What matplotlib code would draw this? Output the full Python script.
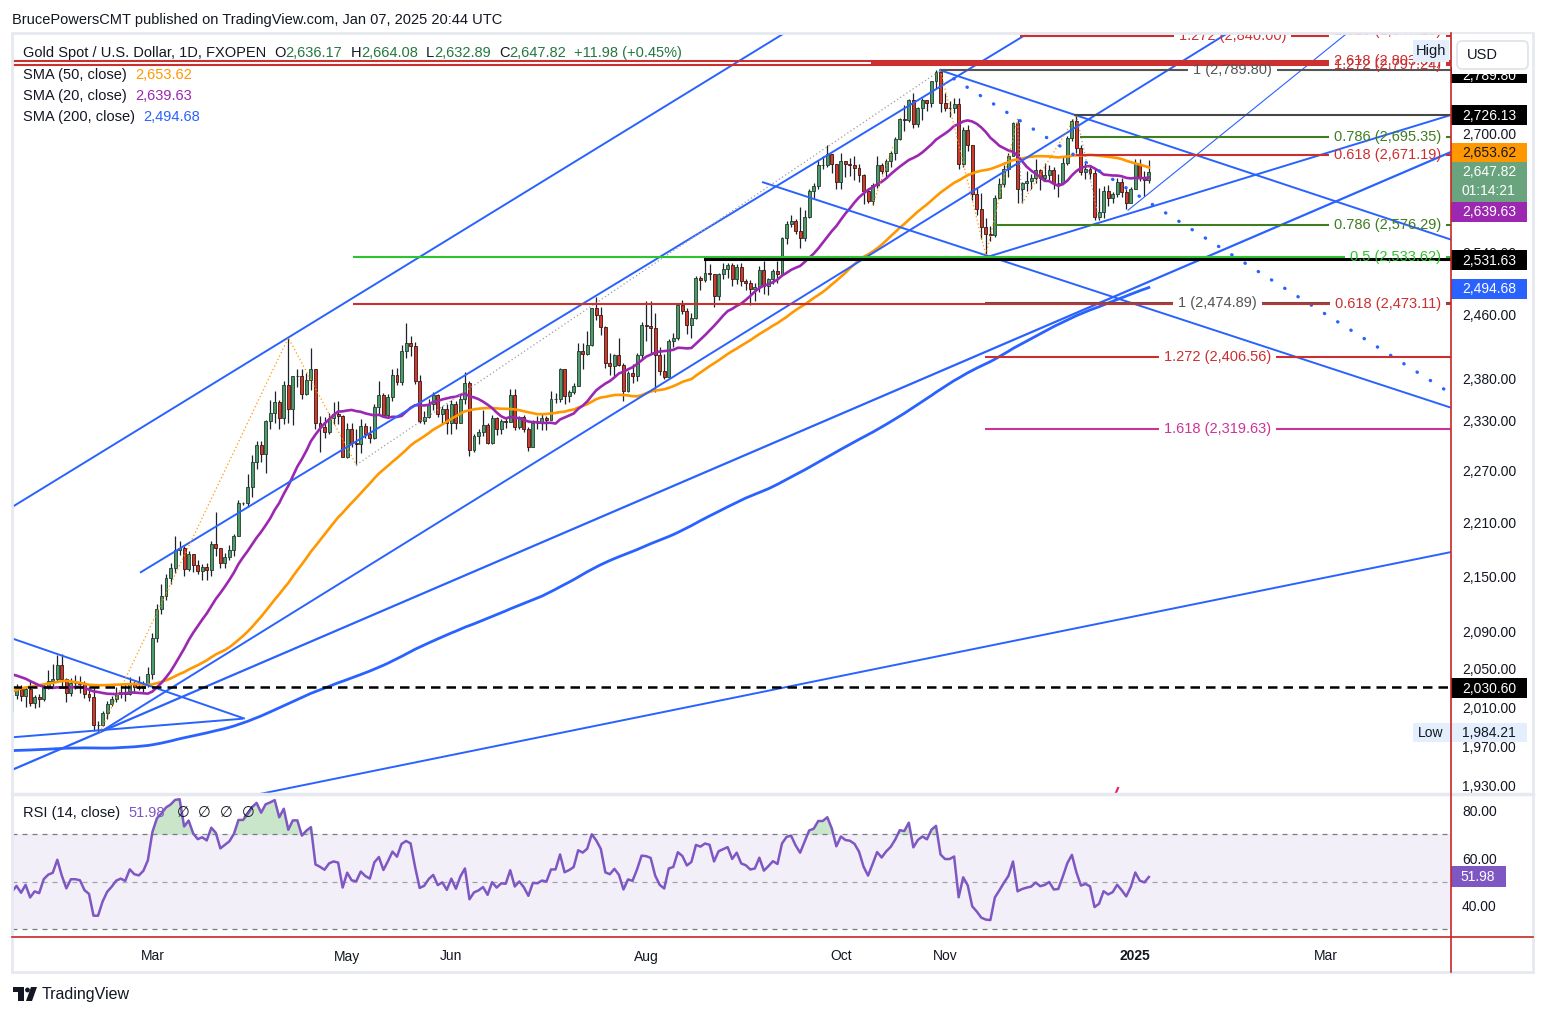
import numpy as np
import pandas as pd
import matplotlib
matplotlib.use('Agg')
from matplotlib import pyplot as plt
from matplotlib.patches import Rectangle, FancyBboxPatch, Polygon, Circle
from matplotlib.ticker import NullLocator, NullFormatter

plt.rcParams['font.family'] = ['Liberation Sans', 'DejaVu Sans']

# weekly closes Apr-Dec 2023, only used to warm up the moving averages / RSI
weekly_closes_2023 = [2004, 1983, 1990, 2017, 2011, 1977, 1946, 1948, 1961, 1958, 1921, 1919, 1925,
                      1955, 1962, 1959, 1943, 1914, 1889, 1915, 1940, 1919, 1924, 1925, 1848, 1833,
                      1932, 1981, 2006, 1992, 1940, 1980, 2001, 2072, 2004, 2019, 2053, 2063]

holidays = ['2024-12-25', '2025-01-01']

# daily XAU/USD, 2 Jan 2024 .. 7 Jan 2025 (one block per month)
closes = [
    2058, 2042, 2043, 2045, 2027, 2030, 2024, 2029, 2049, 2055, 2029, 2006, 2023, 2029, 2021, 2029, 2014, 2020, 2018, 2032, 2037, 2039,
    2054, 2039, 2025, 2035, 2035, 2034, 2024, 2020, 1992, 1992, 2004, 2013, 2018, 2024, 2026, 2024, 2035, 2031, 2030, 2034, 2044,
    2083, 2114, 2128, 2148, 2159, 2179, 2182, 2158, 2175, 2162, 2156, 2160, 2157, 2186, 2181, 2165, 2172, 2179, 2195, 2233, 2233,
    2251, 2280, 2300, 2290, 2329, 2339, 2352, 2333, 2372, 2344, 2383, 2383, 2361, 2379, 2392, 2327, 2322, 2316, 2332, 2337, 2335, 2286,
    2320, 2303, 2301, 2323, 2314, 2309, 2346, 2360, 2336, 2358, 2385, 2376, 2415, 2425, 2421, 2378, 2329, 2334, 2350, 2360, 2337, 2343, 2326,
    2350, 2327, 2355, 2375, 2294, 2311, 2316, 2324, 2303, 2333, 2319, 2329, 2328, 2360, 2322, 2334, 2320, 2298, 2327, 2326,
    2332, 2330, 2356, 2356, 2392, 2359, 2364, 2371, 2415, 2411, 2422, 2469, 2459, 2445, 2400, 2396, 2409, 2397, 2365, 2387, 2384, 2410, 2447,
    2446, 2443, 2410, 2390, 2382, 2427, 2431, 2472, 2465, 2447, 2456, 2507, 2504, 2514, 2512, 2484, 2512, 2518, 2524, 2505, 2521, 2503,
    2500, 2493, 2495, 2517, 2497, 2506, 2516, 2512, 2559, 2578, 2582, 2569, 2559, 2587, 2622, 2628, 2657, 2657, 2672, 2658, 2634,
    2663, 2658, 2657, 2653, 2643, 2622, 2608, 2630, 2657, 2649, 2663, 2674, 2693, 2721, 2720, 2748, 2714, 2736, 2747, 2743, 2774, 2788, 2744,
    2736, 2736, 2742, 2658, 2706, 2685, 2618, 2598, 2573, 2565, 2563, 2613, 2631, 2651, 2670, 2715, 2625, 2632, 2636, 2639, 2650,
    2640, 2643, 2650, 2632, 2633, 2660, 2694, 2718, 2681, 2648, 2652, 2646, 2587, 2594, 2622, 2613, 2618, 2634, 2621, 2606, 2625,
    2658, 2640, 2636.17, 2647.82,
]
highs = [
    2079, 2065, 2051, 2064, 2046, 2038, 2041, 2040, 2062, 2058, 2055, 2030, 2026, 2034, 2033, 2031, 2037, 2023, 2024, 2035, 2049, 2055,
    2065, 2066, 2040, 2040, 2043, 2042, 2037, 2032, 2031, 1996, 2006, 2016, 2022, 2031, 2034, 2035, 2041, 2037, 2042, 2037, 2052,
    2088, 2120, 2141, 2152, 2165, 2195, 2189, 2184, 2178, 2175, 2168, 2164, 2165, 2189, 2222, 2182, 2176, 2185, 2197, 2236, 2234,
    2266, 2288, 2305, 2305, 2330, 2354, 2365, 2354, 2378, 2431, 2384, 2392, 2392, 2387, 2418, 2390, 2335, 2334, 2339, 2352, 2353, 2336,
    2326, 2326, 2319, 2331, 2327, 2323, 2349, 2378, 2363, 2362, 2392, 2394, 2422, 2450, 2433, 2426, 2385, 2341, 2355, 2364, 2362, 2347, 2349,
    2354, 2353, 2362, 2388, 2378, 2313, 2320, 2342, 2327, 2336, 2334, 2331, 2334, 2368, 2368, 2335, 2336, 2322, 2330, 2335,
    2339, 2335, 2365, 2363, 2393, 2392, 2366, 2375, 2424, 2425, 2440, 2469, 2483, 2470, 2446, 2412, 2411, 2431, 2399, 2390, 2398, 2412, 2451,
    2477, 2477, 2462, 2420, 2411, 2430, 2437, 2474, 2479, 2468, 2462, 2509, 2510, 2531, 2525, 2510, 2514, 2527, 2526, 2526, 2525, 2526,
    2506, 2504, 2500, 2523, 2529, 2507, 2518, 2529, 2561, 2582, 2590, 2584, 2600, 2596, 2625, 2632, 2664, 2670, 2685, 2672, 2645,
    2673, 2663, 2667, 2670, 2658, 2645, 2626, 2633, 2670, 2660, 2665, 2676, 2696, 2722, 2741, 2749, 2758, 2737, 2750, 2747, 2775, 2790, 2790,
    2758, 2746, 2750, 2750, 2710, 2713, 2685, 2627, 2619, 2585, 2575, 2616, 2639, 2657, 2673, 2716, 2721, 2634, 2649, 2645, 2665,
    2651, 2660, 2657, 2655, 2645, 2668, 2697, 2721, 2726, 2685, 2661, 2656, 2652, 2626, 2628, 2630, 2621, 2639, 2639, 2624, 2627,
    2665, 2665, 2649, 2664.08,
]
lows = [
    2057, 2030, 2032, 2024, 2017, 2022, 2018, 2014, 2029, 2047, 2021, 2001, 2006, 2018, 2016, 2010, 2011, 2009, 2010, 2016, 2029, 2030,
    2036, 2031, 2015, 2021, 2029, 2025, 2019, 2016, 1985, 1984, 1990, 1998, 2011, 2015, 2019, 2016, 2023, 2025, 2028, 2025, 2031,
    2039, 2079, 2109, 2124, 2142, 2154, 2174, 2150, 2156, 2155, 2152, 2146, 2146, 2150, 2173, 2159, 2159, 2168, 2173, 2195, 2230,
    2228, 2240, 2272, 2280, 2268, 2320, 2327, 2319, 2325, 2327, 2324, 2370, 2355, 2360, 2366, 2320, 2292, 2309, 2314, 2325, 2325, 2286,
    2285, 2298, 2277, 2291, 2309, 2303, 2307, 2336, 2335, 2334, 2353, 2372, 2373, 2406, 2408, 2374, 2326, 2325, 2333, 2342, 2334, 2325, 2314,
    2314, 2320, 2329, 2350, 2287, 2292, 2302, 2311, 2301, 2302, 2312, 2314, 2321, 2328, 2318, 2320, 2316, 2293, 2298, 2320,
    2318, 2318, 2330, 2351, 2352, 2350, 2352, 2361, 2371, 2392, 2410, 2421, 2453, 2434, 2394, 2385, 2383, 2396, 2353, 2364, 2375, 2378, 2405,
    2427, 2412, 2364, 2385, 2380, 2382, 2419, 2428, 2461, 2436, 2431, 2455, 2491, 2502, 2504, 2470, 2479, 2506, 2507, 2497, 2499, 2497,
    2491, 2472, 2477, 2489, 2486, 2485, 2499, 2500, 2511, 2551, 2573, 2564, 2546, 2555, 2585, 2612, 2624, 2651, 2655, 2646, 2625,
    2624, 2641, 2642, 2637, 2634, 2604, 2605, 2603, 2626, 2645, 2640, 2654, 2664, 2692, 2704, 2717, 2708, 2710, 2720, 2732, 2737, 2765, 2730,
    2732, 2724, 2729, 2652, 2655, 2677, 2610, 2589, 2558, 2536, 2555, 2561, 2613, 2627, 2641, 2669, 2605, 2605, 2622, 2625, 2633,
    2623, 2635, 2636, 2624, 2614, 2632, 2657, 2690, 2674, 2644, 2638, 2638, 2583, 2583, 2586, 2601, 2606, 2614, 2614, 2597, 2605,
    2624, 2636, 2615, 2632.89,
]

# last values as printed by TradingView
sma50_last, sma20_last, sma200_last, rsi_last = 2653.62, 2639.63, 2494.68, 51.98

price_ticks = [1930, 1970, 2010, 2050, 2090, 2150, 2210, 2270, 2330, 2380, 2460, 2540, 2620, 2700]
month_starts = ['2024-03-01', '2024-05-01', '2024-06-03', '2024-08-01', '2024-10-01',
                '2024-11-01', '2025-01-02', '2025-03-03']
month_labels = ['Mar', 'May', 'Jun', 'Aug', 'Oct', 'Nov', '2025', 'Mar']

# drawings: (bar number counted from 1 Mar 2024, price)
trend_a = [(-31.0, 2228), (143.0, 2858)]
trend_b = [(-2.74, 2154), (195.9, 2854)]
trend_c = [(-31.0, 1946), (286.7, 2675)]
trend_d = [(-11.57, 1984.2), (240.1, 2855)]
trend_e = [(-30.8, 1979), (20.0, 1998)]
trend_f = [(-30.8, 2082), (20.4, 1998)]
trend_g = [(21.5, 1920), (286.7, 2177)]
trend_i = [(215.4, 2596), (265.5, 2853)]
trend_j = [(174, 2789.8), (286.7, 2557)]
trend_l = [(134.6, 2634), (286.7, 2345)]
trend_m = [(184.2, 2534), (286.7, 2726.5)]
dotted_k = [(174, 2789.8), (285.3, 2367)]
zigzag_orange = [[(-11.6, 1984.2), (30, 2431), (45, 2277)],
                 [(174, 2789.8), (184, 2536), (191, 2721)],
                 [(192, 2605), (204, 2726)],
                 [(159, 2603), (163.5, 2682)]]
zigzag_gray = [[(45, 2277), (174, 2789.8)], [(191, 2721), (192, 2605)], [(204, 2726), (209, 2583)]]
pink_tick = [(212.1, 1917), (213.2, 1928)]

RED, GRN, LIME, MAG, GRY = '#cc2f2f', '#3f7d20', '#2ec42e', '#cc3399', '#555555'
R_LAB, C_LAB1, C_LAB2 = 284.5, 235.2, 238.5
fib_levels = [
    (2847.10, 191.5, RED, '1.618 (2,847.10)', R_LAB, 'right'),
    (2840.00, 191.5, RED, '1.272 (2,840.00)', C_LAB2, 'center'),
    (2803.40, -31.0, RED, '2.618 (2,803.37)', R_LAB, 'right'),
    (2800.60, 158.6, RED, None, None, None),
    (2797.24, -31.0, RED, '1.272 (2,797.24)', R_LAB, 'right'),
    (2789.80, 174.0, GRY, '1 (2,789.80)', C_LAB2, 'center'),
    (2726.13, 203.4, '#474747', None, None, None),
    (2695.35, 204.9, GRN, '0.786 (2,695.35)', R_LAB, 'right'),
    (2671.19, 203.8, RED, '0.618 (2,671.19)', R_LAB, 'right'),
    (2576.29, 186.0, GRN, '0.786 (2,576.29)', R_LAB, 'right'),
    (2533.62, 44.3, LIME, '0.5 (2,533.62)', R_LAB, 'right'),
    (2474.89, 183.8, GRY, '1 (2,474.89)', C_LAB1, 'center'),
    (2473.11, 44.3, RED, '0.618 (2,473.11)', R_LAB, 'right'),
    (2406.56, 183.8, RED, '1.272 (2,406.56)', C_LAB1, 'center'),
    (2319.63, 183.8, MAG, '1.618 (2,319.63)', C_LAB1, 'center'),
]

# ---------------------------------------------------------------- series
dates = pd.bdate_range('2024-01-02', '2025-01-07')
dates = dates[~dates.isin(pd.to_datetime(holidays))]
hol = np.array(holidays, dtype='datetime64[D]')
day0 = np.datetime64('2024-03-01')
x = np.busday_count(day0, dates.values.astype('datetime64[D]'), holidays=hol)

closes = np.array(closes, float)
opens = np.r_[weekly_closes_2023[-1], closes[:-1]]
highs = np.maximum(np.array(highs, float), np.maximum(opens, closes))
lows = np.minimum(np.array(lows, float), np.minimum(opens, closes))
n = len(closes)

full = pd.Series(np.r_[np.repeat(weekly_closes_2023, 5), closes])
sma20 = full.rolling(20).mean().values[-n:]
sma50 = full.rolling(50).mean().values[-n:]
sma200 = full.rolling(200).mean().values[-n:]
delta = full.diff()
gain = delta.clip(lower=0).ewm(alpha=1 / 14, adjust=False).mean()
loss = (-delta.clip(upper=0)).ewm(alpha=1 / 14, adjust=False).mean()
rsi = (100 - 100 / (1 + gain / loss)).values[-n:]

# ---------------------------------------------------------------- figure
W, H = 1546, 1016
fig = plt.figure(figsize=(W / 100, H / 100), dpi=100)
fig.patch.set_facecolor('white')


def frac(x0, y0, x1, y1):
    return [x0 / W, 1 - y1 / H, (x1 - x0) / W, (y1 - y0) / H]


ax = fig.add_axes(frac(12, 33, 1451, 793))
rs = fig.add_axes(frac(12, 795, 1451, 937))
ov = fig.add_axes([0, 0, 1, 1])
ov.set_zorder(10)
ov.set_xlim(0, W)
ov.set_ylim(H, 0)
ov.axis('off')

XL, XR = -31.0, 286.7
TXT = '#131722'

ax.set_yscale('log')
ax.set_xlim(XL, XR)
ax.set_ylim(1923, 2844)
for s in ax.spines.values():
    s.set_visible(False)
ax.yaxis.tick_right()
ax.set_yticks(price_ticks)
ax.set_yticklabels([f'{v:,.2f}' for v in price_ticks])
ax.yaxis.set_minor_locator(NullLocator())
ax.yaxis.set_minor_formatter(NullFormatter())
ax.tick_params(axis='y', length=0, pad=8, labelsize=10, labelcolor=TXT)
ax.set_xticks([])

# candles
up = closes >= opens
lo_b = np.minimum(opens, closes)
hi_b = np.maximum(opens, closes)
ax.vlines(x, lows, highs, color='#1e222d', lw=0.9, zorder=2)
ax.bar(x[up], (hi_b - lo_b)[up], bottom=lo_b[up], width=0.66, color='#4f9a6c',
       edgecolor='#1f3d2b', lw=0.6, zorder=3)
ax.bar(x[~up], (hi_b - lo_b)[~up], bottom=lo_b[~up], width=0.66, color='#cf3a2e',
       edgecolor='#3d1510', lw=0.6, zorder=3)

# moving averages
ax.plot(x, sma200, color='#2962ff', lw=2.0, zorder=4)
ax.plot(x, sma50, color='#ff9800', lw=1.9, zorder=4)
ax.plot(x, sma20, color='#9c27b0', lw=1.9, zorder=4)

# trend lines
BLUE = '#2962ff'
for ln in [trend_a, trend_b, trend_d, trend_e, trend_f, trend_g, trend_j, trend_l, trend_m]:
    ax.plot(*zip(*ln), color=BLUE, lw=1.4, zorder=5, solid_capstyle='butt')
ax.plot(*zip(*trend_c), color=BLUE, lw=1.6, zorder=5)
ax.plot(*zip(*trend_i), color=BLUE, lw=0.8, zorder=5)
ax.plot(*zip(*dotted_k), color=BLUE, lw=2.4, ls=(0, (0.1, 4.6)), dash_capstyle='round', zorder=5)
for zz in zigzag_orange:
    ax.plot(*zip(*zz), color='#ff9800', lw=0.9, ls=(0, (1, 2)), zorder=5)
for zz in zigzag_gray:
    ax.plot(*zip(*zz), color='#9e9e9e', lw=0.9, ls=(0, (1, 2)), zorder=5)
ax.plot(*zip(*pink_tick), color='#e91e63', lw=1.5, zorder=5)

# fib levels: labels first, then lines broken around labels on the same level
renderer = fig.canvas.get_renderer()
inv = ax.transData.inverted()
label_boxes = []
for price, x0, col, lab, lx, ha in fib_levels:
    if lab:
        t = ax.text(lx, price, lab, color=col, fontsize=10.5, ha=ha, va='center',
                    zorder=6, clip_on=True)
        bb = t.get_window_extent(renderer)
        yc = ax.transData.transform((0, price))[1]
        label_boxes.append((yc, inv.transform((bb.x0 - 5, 0))[0], inv.transform((bb.x1 + 5, 0))[0]))

for price, x0, col, lab, lx, ha in fib_levels:
    yc = ax.transData.transform((0, price))[1]
    gaps = sorted((a, b) for y, a, b in label_boxes if abs(y - yc) < 5)
    start = x0
    segs = []
    for a, b in gaps:
        if a > start:
            segs.append((start, a))
        start = max(start, b)
    segs.append((start, XR))
    for s0, s1 in segs:
        if s1 > s0:
            ax.plot([s0, s1], [price, price], color=col, lw=1.5, zorder=5, solid_capstyle='butt')

ax.plot([122.0, XR], [2531.63, 2531.63], color='black', lw=2.2, zorder=5)
ax.plot([XL, XR], [2030.60, 2030.60], color='black', lw=1.8, ls=(0, (3.8, 2.4)), zorder=5)

# ---------------------------------------------------------------- RSI
rs.set_xlim(XL, XR)
rs.set_ylim(26.4, 86.8)
for s in rs.spines.values():
    s.set_visible(False)
rs.axhspan(30, 70, color='#7e57c2', alpha=0.09, lw=0)
rs.axhline(70, color='#787b86', lw=0.9, ls=(0, (4, 4)))
rs.axhline(50, color='#a0a3ad', lw=0.9, ls=(0, (4, 4)))
rs.axhline(30, color='#787b86', lw=0.9, ls=(0, (4, 4)))
rs.fill_between(x, 70, rsi, where=rsi > 70, interpolate=True, color='#4caf50', alpha=0.3, lw=0)
rs.plot(x, rsi, color='#7e57c2', lw=1.8)
rs.yaxis.tick_right()
rs.set_yticks([40, 60, 80])
rs.set_yticklabels(['40.00', '60.00', '80.00'])
rs.tick_params(axis='y', length=0, pad=8, labelsize=10, labelcolor=TXT)
mpos = np.busday_count(day0, np.array(month_starts, dtype='datetime64[D]'), holidays=hol)
rs.set_xticks(mpos)
rs.set_xticklabels(month_labels)
rs.tick_params(axis='x', length=0, pad=9, labelsize=10, labelcolor=TXT)
for t in rs.get_xticklabels():
    if t.get_text() == '2025':
        t.set_fontweight('bold')

# ---------------------------------------------------------------- overlay (frame, legend, tags)
ov.add_patch(Rectangle((12, 33), 1521, 939, fill=False, ec='#e6e9ef', lw=2))
ov.plot([12, 1533], [794, 794], color='#e6e9ef', lw=2.5)
ov.plot([1451, 1451], [33, 972], color='#c62828', lw=1.2)
ov.plot([12, 1533], [937, 937], color='#c62828', lw=1.2)

ov.text(12, 20, 'BrucePowersCMT published on TradingView.com, Jan 07, 2025 20:44 UTC',
        color=TXT, fontsize=10.5, va='center', ha='left')


def row(x0, y, parts, size=10.5):
    xx = x0
    for txt, col, gap in parts:
        t = ov.text(xx, y, txt, color=col, fontsize=size, va='center', ha='left')
        xx = t.get_window_extent(renderer).x1 + gap
    return xx


VG = '#22783f'
row(23, 53, [('Gold Spot / U.S. Dollar, 1D, FXOPEN', TXT, 8), ('O', TXT, 0), ('2,636.17', VG, 8),
             ('H', TXT, 0), ('2,664.08', VG, 8), ('L', TXT, 0), ('2,632.89', VG, 8),
             ('C', TXT, 0), ('2,647.82', VG, 8), ('+11.98 (+0.45%)', VG, 0)])
row(23, 75, [('SMA (50, close)', TXT, 8), (f'{sma50_last:,.2f}', '#ff9800', 0)])
row(23, 96, [('SMA (20, close)', TXT, 8), (f'{sma20_last:,.2f}', '#9c27b0', 0)])
row(23, 117, [('SMA (200, close)', TXT, 8), (f'{sma200_last:,.2f}', '#2962ff', 0)])
row(23, 813, [('RSI (14, close)', TXT, 8), (f'{rsi_last:.2f}', '#7e57c2', 12),
              ('\u2205', TXT, 9), ('\u2205', TXT, 9), ('\u2205', TXT, 9), ('\u2205', TXT, 0)])


def ypx(price):
    return H - ax.transData.transform((0, price))[1]


def tag(y, text, fc, h=20, tc='white', w=76):
    ov.add_patch(Rectangle((1451, y - h / 2), w, h, fc=fc, ec='none'))
    ov.text(1462, y + 0.5, text, color=tc, fontsize=10, va='center', ha='left')


# all-time-high tag, mostly hidden under the currency button
tag(ypx(2789.80) + 5, '2,789.80', 'black', h=16)
ov.add_patch(Rectangle((1452, 34), 80, 40, fc='white', ec='none'))
ov.add_patch(FancyBboxPatch((1457, 41), 71, 28, boxstyle='round,pad=0,rounding_size=5',
                            fc='white', ec='#dfe2e8', lw=1.2))
ov.text(1467, 55, 'USD', color=TXT, fontsize=10.5, va='center', ha='left')
ov.add_patch(Rectangle((1413, 40), 36, 22, fc='#e3effd', ec='none'))
ov.text(1431, 51, 'High', color=TXT, fontsize=10.5, va='center', ha='center')

tag(ypx(2726.13), '2,726.13', 'black')
tag(ypx(sma50_last) - 15, f'{sma50_last:,.2f}', '#ff9800', tc=TXT)
yc = ypx(2647.82)
ov.add_patch(Rectangle((1451, yc - 9.5), 76, 39.5, fc='#6aa47f', ec='none'))
ov.text(1462, yc + 0.5, '2,647.82', color='white', fontsize=10, va='center', ha='left')
ov.text(1462, yc + 19.5, '01:14:21', color='white', fontsize=10, va='center', ha='left')
tag(ypx(sma20_last) + 34, f'{sma20_last:,.2f}', '#9c27b0')
tag(ypx(2531.63) + 1.5, '2,531.63', 'black')
tag(ypx(sma200_last) + 1, f'{sma200_last:,.2f}', '#2962ff')
tag(ypx(2030.60) + 1, '2,030.60', 'black')

yl = ypx(1984.21)
ov.add_patch(Rectangle((1413, yl - 9.5), 114, 19, fc='#e3effd', ec='none'))
ov.text(1418, yl + 0.5, 'Low', color=TXT, fontsize=10, va='center', ha='left')
ov.text(1462, yl + 0.5, '1,984.21', color=TXT, fontsize=10, va='center', ha='left')

yr = H - rs.transData.transform((0, rsi_last))[1]
ov.add_patch(Rectangle((1451, yr - 10.5), 55, 21, fc='#7e57c2', ec='none'))
ov.text(1460, yr + 0.5, f'{rsi_last:.2f}', color='white', fontsize=10, va='center', ha='left')

# TradingView logo
ov.add_patch(Rectangle((13, 987), 11, 5, fc='#131722', ec='none'))
ov.add_patch(Rectangle((18, 987), 6, 14, fc='#131722', ec='none'))
ov.add_patch(Circle((27.5, 990), 2.4, fc='#131722', ec='none'))
ov.add_patch(Polygon([(26, 1001), (31, 987), (37, 987), (32, 1001)], closed=True, fc='#131722', ec='none'))
ov.text(42, 994, 'TradingView', color=TXT, fontsize=11.5, va='center', ha='left')

fig.savefig('out.png', dpi=100, facecolor='white')
